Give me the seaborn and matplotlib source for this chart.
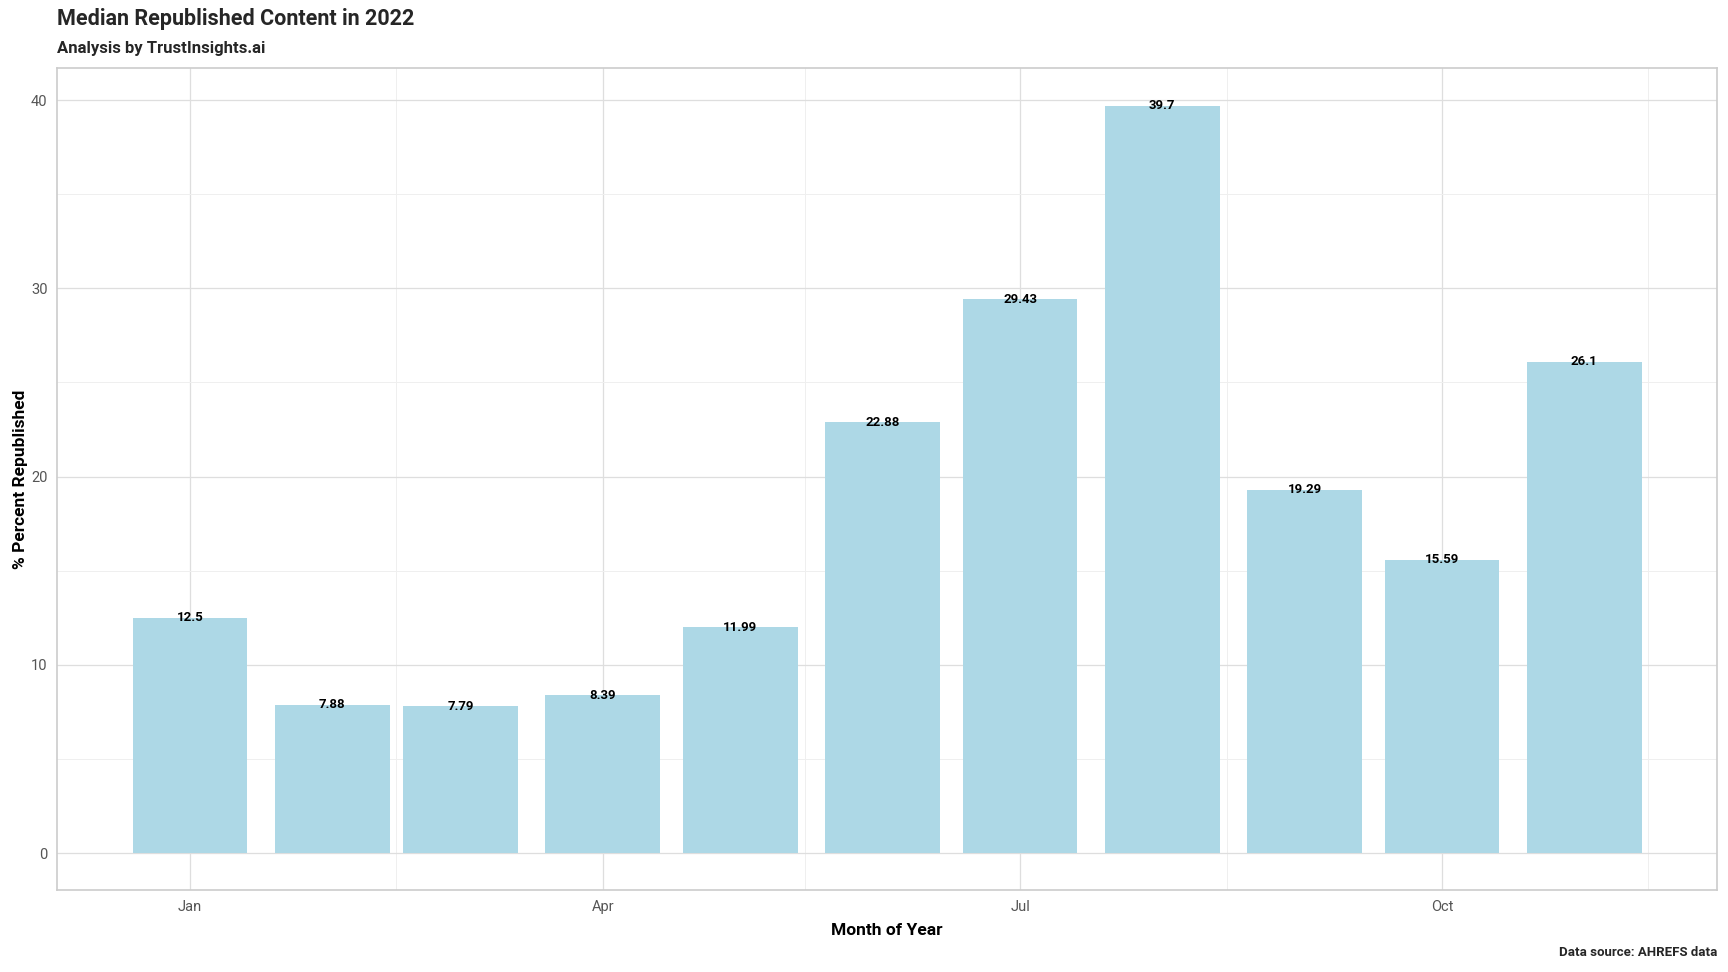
import matplotlib
matplotlib.use("Agg")
import matplotlib.pyplot as plt
import matplotlib.dates as mdates
import pandas as pd
import seaborn as sns

months = ["2022-01-01", "2022-02-01", "2022-03-01", "2022-04-01", "2022-05-01", "2022-06-01",
          "2022-07-01", "2022-08-01", "2022-09-01", "2022-10-01", "2022-11-01"]
pct_republished = [12.5, 7.88, 7.79, 8.39, 11.99, 22.88, 29.43, 39.7, 19.29, 15.59, 26.1]
value_labels = ["12.5", "7.88", "7.79", "8.39", "11.99", "22.88", "29.43", "39.7", "19.29", "15.59", "26.1"]

df = pd.DataFrame({"month": pd.to_datetime(months), "pct": pct_republished})
df["x"] = mdates.date2num(df["month"])

sns.set_theme(style="whitegrid")
plt.rcParams["font.family"] = ["Roboto", "DejaVu Sans"]

# layout measured on a 1568x882 view of the reference
W, H = 1568, 882
fig = plt.figure(figsize=(17.28, 9.72), dpi=100)
ax = fig.add_axes([52 / W, 1 - 808 / H, (1558 - 52) / W, (808 - 62) / H])

sns.barplot(data=df, x="x", y="pct", native_scale=True, width=25 / 28,
            color="#ADD8E6", saturation=1, edgecolor="none", linewidth=0, ax=ax)

for xv, yv, lab in zip(df["x"], df["pct"], value_labels):
    ax.text(xv, yv, lab, ha="center", va="center", fontsize=9.5, fontweight="bold", color="black")

# ggplot-style expansion
half = 12.5
xmin, xmax = df["x"].min() - half, df["x"].max() + half
pad = (xmax - xmin) * 0.05
ax.set_xlim(xmin - pad, xmax + pad)
ymax = max(pct_republished)
ax.set_ylim(-ymax * 0.05, ymax * 1.05)

ax.xaxis.set_major_locator(mdates.MonthLocator(bymonth=[1, 4, 7, 10]))
ax.xaxis.set_major_formatter(mdates.DateFormatter("%b"))
ax.xaxis.set_minor_locator(mdates.MonthLocator(bymonth=[2, 5, 8, 11], bymonthday=15))
ax.set_yticks([0, 10, 20, 30, 40])
ax.set_yticks([5, 15, 25, 35], minor=True)

ax.grid(which="major", color="#dedede", linewidth=0.9)
ax.grid(which="minor", color="#efefef", linewidth=0.7)
ax.set_axisbelow(True)
for s in ax.spines.values():
    s.set_color("#cccccc")
    s.set_linewidth(1.2)
ax.tick_params(axis="both", which="major", length=4, color="#bbbbbb", labelsize=10.5,
               labelcolor="#555555", pad=3)
ax.tick_params(axis="both", which="minor", length=0)

ax.set_xlabel("Month of Year", fontsize=12.5, fontweight="bold", color="black", labelpad=6)
ax.set_ylabel("% Percent Republished", fontsize=12.5, fontweight="bold", color="black", labelpad=2)

fig.text(52 / W, 1 - 17 / H, "Median Republished Content in 2022", fontsize=15.5,
         fontweight="bold", va="center", ha="left")
fig.text(52 / W, 1 - 44 / H, "Analysis by TrustInsights.ai", fontsize=12,
         fontweight="bold", va="center", ha="left")
fig.text(1558 / W, 1 - 864 / H, "Data source: AHREFS data", fontsize=9.5,
         fontweight="bold", va="center", ha="right")

fig.savefig("out.png", dpi=100)
